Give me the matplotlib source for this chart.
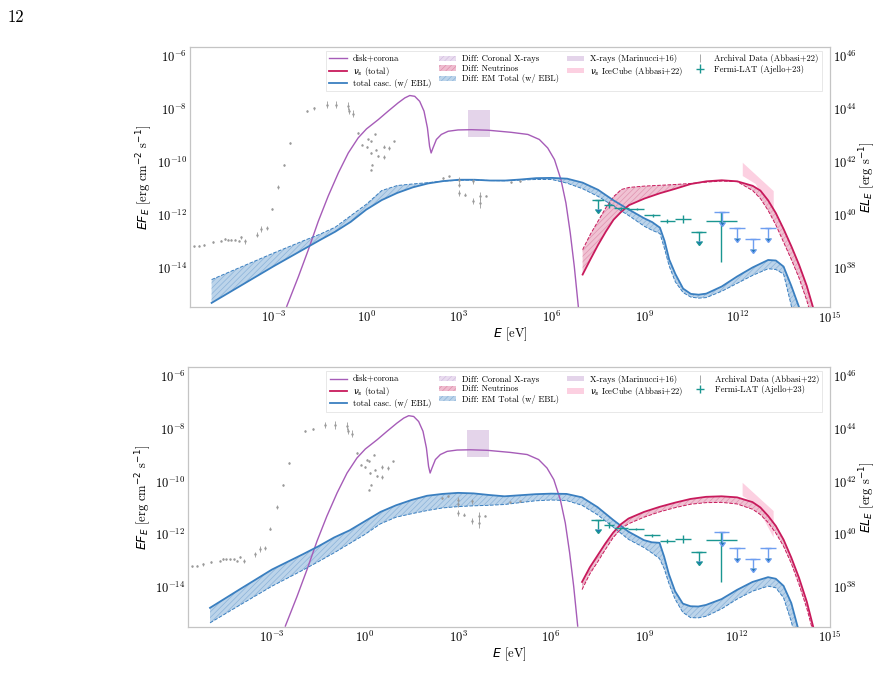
import numpy as np
import matplotlib.pyplot as plt
from matplotlib.patches import Patch
from matplotlib.lines import Line2D
from matplotlib.ticker import NullLocator

plt.rcParams['font.family'] = 'serif'
plt.rcParams['font.serif'] = ['cmr10', 'DejaVu Serif']
plt.rcParams['mathtext.fontset'] = 'dejavusans'
plt.rcParams['axes.formatter.use_mathtext'] = True
plt.rcParams['axes.unicode_minus'] = False
plt.rcParams['hatch.linewidth'] = 0.5

# ---- data (log10 E [eV], log10 E F_E [erg cm^-2 s^-1]) ----
disk_logE = [-2.57, -2.19, -1.87, -1.55, -1.23, -0.90, -0.58, -0.26, 0.01, 0.39, 0.71, 1.03,
             1.25, 1.41, 1.57, 1.73, 1.87, 1.98, 2.05, 2.10, 2.16, 2.27, 2.43, 2.65, 2.97,
             3.40, 3.94, 4.69, 5.23, 5.60, 5.87, 6.09, 6.30, 6.46, 6.60, 6.73, 6.86]
disk_logF = [-15.47, -14.34, -13.33, -12.26, -11.31, -10.43, -9.68, -9.11, -8.77, -8.42, -8.10, -7.79,
             -7.60, -7.51, -7.54, -7.73, -8.10, -8.73, -9.43, -9.68, -9.49, -9.17, -8.98, -8.86, -8.81,
             -8.80, -8.82, -8.90, -8.98, -9.17, -9.49, -9.93, -10.69, -11.57, -12.70, -13.96, -15.47]

casc_logE = [-5.0, -4.0, -3.0, -2.0, -1.5, -1.0, -0.5, 0.0, 0.5, 1.0, 1.5, 2.0, 2.5, 3.0, 3.5,
             4.0, 4.5, 5.0, 5.5, 6.0, 6.5, 7.0, 7.5, 8.0, 8.5, 9.0, 9.25, 9.5, 9.65, 9.8, 10.0,
             10.25, 10.5, 10.75, 11.0, 11.5, 12.0, 12.5, 13.0, 13.25, 13.5, 13.75, 14.0]
# top panel: solid model and dashed model
casc_top_a = [-15.34, -14.65, -13.96, -13.30, -12.97, -12.65, -12.28, -11.82, -11.46, -11.19, -10.98,
              -10.83, -10.74, -10.69, -10.69, -10.72, -10.72, -10.68, -10.63, -10.62, -10.65, -10.80,
              -11.07, -11.47, -11.82, -12.15, -12.29, -12.50, -13.00, -13.70, -14.25, -14.80, -15.00,
              -15.03, -14.99, -14.72, -14.34, -14.00, -13.72, -13.74, -13.97, -14.70, -15.50]
casc_top_b = [-14.46, -13.96, -13.46, -12.98, -12.75, -12.48, -12.05, -11.62, -11.10, -10.91, -10.85,
              -10.80, -10.74, -10.71, -10.70, -10.72, -10.73, -10.70, -10.68, -10.68, -10.82, -11.03,
              -11.32, -11.68, -12.05, -12.45, -12.60, -12.72, -13.30, -13.95, -14.55, -14.95, -15.12,
              -15.16, -15.14, -14.90, -14.60, -14.30, -14.05, -14.08, -14.25, -15.45, -16.50]
# bottom panel
casc_bot_a = [-14.78, -14.05, -13.33, -12.75, -12.45, -12.12, -11.85, -11.50, -11.15, -10.90, -10.70,
              -10.54, -10.47, -10.43, -10.45, -10.51, -10.56, -10.52, -10.48, -10.46, -10.47, -10.60,
              -10.97, -11.45, -11.90, -12.22, -12.30, -12.32, -12.85, -13.50, -14.15, -14.62, -14.72,
              -14.73, -14.67, -14.45, -14.10, -13.80, -13.62, -13.68, -13.95, -14.60, -15.70]
casc_bot_b = [-15.35, -14.65, -13.96, -13.35, -13.03, -12.70, -12.35, -12.00, -11.60, -11.35, -11.22,
              -11.10, -11.00, -10.95, -10.92, -10.90, -10.87, -10.80, -10.73, -10.70, -10.72, -10.90,
              -11.26, -11.72, -12.19, -12.50, -12.70, -12.92, -13.30, -13.85, -14.45, -14.95, -15.15,
              -15.16, -15.10, -14.82, -14.45, -14.15, -13.96, -14.02, -14.40, -15.30, -16.50]

nu_logE = [7.0, 7.25, 7.5, 7.75, 8.0, 8.25, 8.5, 9.0, 9.5, 10.0, 10.5, 11.0, 11.5, 12.0, 12.5,
           12.75, 13.0, 13.25, 13.5, 13.75, 14.0, 14.25, 14.5]
nu_top_a = [-14.27, -13.70, -13.15, -12.65, -12.20, -11.90, -11.65, -11.40, -11.20, -11.03, -10.85,
            -10.75, -10.71, -10.75, -10.92, -11.10, -11.47, -11.95, -12.55, -13.20, -13.90, -14.70, -15.70]
nu_top_b = [-13.33, -12.75, -12.25, -11.75, -11.33, -11.06, -10.98, -10.93, -10.90, -10.87, -10.83,
            -10.78, -10.74, -10.76, -11.10, -11.40, -11.85, -12.40, -13.05, -13.70, -14.40, -15.25, -16.30]
nu_bot_a = [-13.80, -13.25, -12.80, -12.35, -11.94, -11.62, -11.40, -11.15, -10.96, -10.80, -10.66,
            -10.58, -10.56, -10.60, -10.78, -10.98, -11.30, -11.68, -12.20, -12.88, -13.65, -14.55, -15.70]
nu_bot_b = [-14.09, -13.50, -13.05, -12.58, -12.13, -11.80, -11.60, -11.35, -11.15, -10.99, -10.86,
            -10.80, -10.79, -10.85, -11.05, -11.25, -11.55, -11.95, -12.45, -13.10, -13.90, -14.80, -15.90]

# X-ray box (Marinucci+16), 2-10 keV
xray_logE = [3.30, 4.01]
xray_logF = [-9.07, -8.07]

# IceCube bowtie
ice_logE_up = [12.18, 13.18]
ice_logF_up = [-10.05, -11.12]
ice_logE_lo = [13.18, 12.60, 12.18]
ice_logF_lo = [-12.12, -10.85, -10.55]

# archival data
arch_logE = [-5.58, -5.42, -5.24, -4.97, -4.69, -4.58, -4.47, -4.37, -4.24, -4.13, -4.04, -3.91,
             -3.54, -3.40, -3.22, -3.05, -2.84, -2.66, -2.45, -1.92, -1.69, -1.28, -0.98, -0.58,
             -0.56, -0.43, -0.26, -0.13, 0.01, 0.06, 0.14, 0.17, 0.20, 0.14, 0.28, 0.33, 0.39,
             0.56, 0.56, 0.73, 0.89, 2.47, 2.68, 2.99, 2.99, 2.99, 3.18, 3.46, 3.46, 3.67, 3.67,
             3.86, 4.69, 4.99]
arch_logF = [-13.20, -13.18, -13.14, -13.05, -12.99, -12.93, -12.95, -12.95, -12.95, -12.99, -12.86, -13.02,
             -12.76, -12.55, -12.51, -11.78, -10.96, -10.14, -9.30, -8.10, -8.00, -7.85, -7.85, -7.91,
             -8.10, -8.19, -8.92, -9.36, -9.45, -9.17, -9.24, -9.68, -10.12, -10.31, -8.98, -9.55, -9.80,
             -9.83, -9.45, -9.49, -9.24, -10.62, -10.56, -10.69, -10.87, -11.19, -11.25, -10.75, -11.50,
             -11.31, -11.57, -11.29, -10.79, -10.75]
arch_err = [0.02, 0.03, 0.04, 0.03, 0.03, 0.04, 0.03, 0.03, 0.03, 0.03, 0.05, 0.08,
            0.10, 0.10, 0.08, 0.04, 0.08, 0.03, 0.03, 0.03, 0.04, 0.12, 0.15, 0.15,
            0.12, 0.12, 0.03, 0.03, 0.03, 0.03, 0.03, 0.03, 0.03, 0.03, 0.03, 0.03, 0.03,
            0.06, 0.06, 0.06, 0.03, 0.03, 0.03, 0.10, 0.10, 0.12, 0.06, 0.10, 0.12, 0.15, 0.18,
            0.03, 0.03, 0.03]

# Fermi-LAT (Ajello+23)
fermi_logE = [7.50, 7.86, 8.24, 8.75, 9.26, 9.74, 10.26, 10.76, 11.49]
fermi_lo = [7.30, 7.70, 8.02, 8.49, 9.00, 9.50, 10.00, 10.51, 11.00]
fermi_hi = [7.70, 8.02, 8.49, 9.00, 9.50, 10.00, 10.51, 11.00, 12.00]
fermi_logF = [-11.46, -11.65, -11.77, -11.79, -12.04, -12.25, -12.18, -12.67, -12.23]
fermi_dlo = [0.35, 0.12, 0.05, 0.03, 0.05, 0.08, 0.15, 0.35, 1.58]
fermi_dhi = [0.0, 0.12, 0.05, 0.03, 0.05, 0.08, 0.15, 0.0, 0.31]
fermi_ul = [True, False, False, False, False, False, False, True, False]
# high-energy upper limits
ful_logE = [11.50, 12.00, 12.51, 13.00]
ful_lo = [11.25, 11.75, 12.25, 12.75]
ful_hi = [11.75, 12.25, 12.75, 13.25]
ful_logF = [-11.92, -12.53, -12.92, -12.53]

x_ticks = [1e-3, 1e0, 1e3, 1e6, 1e9, 1e12, 1e15]
y_ticks = [1e-14, 1e-12, 1e-10, 1e-8, 1e-6]
lum_factor = 1e52

c_disk = '#a65cb8'
c_nu = '#c81a5c'
c_casc = '#3a7fc0'
c_fermi = '#1a9691'
c_ul = '#6e9ef0'
c_grey = '#9a9a9a'


def p(v):
    return 10.0 ** np.asarray(v)


def style_spines(a):
    for s in a.spines.values():
        s.set_color('#c4c4c4')
        s.set_linewidth(0.8)


def draw_panel(ax, ca, cb, na, nb):
    E = p(casc_logE)
    En = p(nu_logE)
    # X-ray box
    ax.fill_between(p(xray_logE), p(xray_logF[0]), p(xray_logF[1]), color='#e4d4ea', lw=0, zorder=1)
    # IceCube bowtie
    ax.fill(p(ice_logE_up + ice_logE_lo), p(ice_logF_up + ice_logF_lo), color='#fcd0e1', lw=0, zorder=1)
    # disk + corona
    ax.plot(p(disk_logE), p(disk_logF), color=c_disk, lw=1.0, zorder=3)
    # cascade band
    ax.fill_between(E, p(ca), p(cb), facecolor='#bcd4ea', edgecolor='#8cb3d9', hatch='//////',
                    lw=0, zorder=2)
    ax.plot(E, p(cb), color=c_casc, lw=0.7, ls='--', zorder=3)
    ax.plot(E, p(ca), color=c_casc, lw=1.3, zorder=4)
    # neutrino band
    ax.fill_between(En, p(na), p(nb), facecolor='#efbccf', edgecolor='#de8fac', hatch='//////',
                    lw=0, zorder=2, alpha=0.9)
    ax.plot(En, p(nb), color=c_nu, lw=0.7, ls='--', zorder=3)
    ax.plot(En, p(na), color=c_nu, lw=1.3, zorder=4)
    # archival data
    F = p(arch_logF)
    ae = np.array(arch_err)
    ax.errorbar(p(arch_logE), F, yerr=[F - F * 10 ** -ae, F * 10 ** ae - F],
                fmt='.', ms=1.5, color=c_grey, elinewidth=0.6, zorder=5)
    # Fermi
    Ff = p(fermi_logF)
    Ef = p(fermi_logE)
    xlo = Ef - p(fermi_lo)
    xhi = p(fermi_hi) - Ef
    ylo = Ff - Ff * 10 ** (-np.array(fermi_dlo))
    yhi = Ff * 10 ** np.array(fermi_dhi) - Ff
    ul = np.array(fermi_ul)
    ef = ax.errorbar(Ef[~ul], Ff[~ul], xerr=[xlo[~ul], xhi[~ul]], yerr=[ylo[~ul], yhi[~ul]],
                     fmt='none', ecolor=c_fermi, elinewidth=1.0, zorder=6)
    ax.errorbar(Ef[ul], Ff[ul], xerr=[xlo[ul], xhi[ul]], fmt='none', ecolor=c_fermi,
                elinewidth=1.0, zorder=6)
    ax.errorbar(Ef[ul], Ff[ul], yerr=ylo[ul], uplims=True, fmt='none', ecolor=c_fermi,
                elinewidth=1.0, capsize=2, zorder=6)
    Eu = p(ful_logE)
    Fu = p(ful_logF)
    ax.errorbar(Eu, Fu, xerr=[Eu - p(ful_lo), p(ful_hi) - Eu], fmt='none', ecolor=c_ul,
                elinewidth=1.0, zorder=6)
    ax.errorbar(Eu, Fu, yerr=Fu - Fu * 10 ** -0.37, uplims=True, fmt='none', ecolor=c_ul,
                elinewidth=1.0, capsize=2, zorder=6)

    ax.set_xscale('log')
    ax.set_yscale('log')
    ax.set_xlim(2e-6, 1e15)
    ax.set_ylim(3.2e-16, 2.1e-6)
    ax.set_xticks(x_ticks)
    ax.set_yticks(y_ticks)
    ax.xaxis.set_minor_locator(NullLocator())
    ax.yaxis.set_minor_locator(NullLocator())
    ax.set_xlabel(r'$E$ [eV]', fontsize=9, labelpad=0)
    ax.set_ylabel(r'$EF_E$ [erg cm$^{-2}$ s$^{-1}$]', fontsize=9, labelpad=1)
    ax.tick_params(labelsize=9, length=0, pad=2)
    style_spines(ax)

    ax2 = ax.twinx()
    ax2.set_yscale('log')
    ax2.set_ylim(3.2e-16 * lum_factor, 2.1e-6 * lum_factor)
    ax2.set_yticks([t * lum_factor for t in y_ticks])
    ax2.yaxis.set_minor_locator(NullLocator())
    ax2.set_ylabel(r'$EL_E$ [erg s$^{-1}$]', fontsize=9, labelpad=1)
    ax2.tick_params(labelsize=9, length=0, pad=2)
    style_spines(ax2)

    handles = [
        Line2D([], [], color=c_disk, lw=1.0),
        Line2D([], [], color=c_nu, lw=1.3),
        Line2D([], [], color=c_casc, lw=1.3),
        Patch(facecolor='#e9dcef', edgecolor='#d2bde0', hatch='//////', lw=0),
        Patch(facecolor='#efbccf', edgecolor='#de8fac', hatch='//////', lw=0),
        Patch(facecolor='#bcd4ea', edgecolor='#8cb3d9', hatch='//////', lw=0),
        Patch(facecolor='#e4d4ea', lw=0),
        Patch(facecolor='#fcd0e1', lw=0),
        Line2D([], [], color=c_grey, lw=0, marker='|', ms=6, mew=0.6),
        ef,
    ]
    labels = ['disk+corona', r'$\nu_s$ (total)', 'total casc. (w/ EBL)',
              'Diff: Coronal X-rays', 'Diff: Neutrinos', 'Diff: EM Total (w/ EBL)',
              'X-rays (Marinucci+16)', r'$\nu_s$ IceCube (Abbasi+22)',
              'Archival Data (Abbasi+22)', 'Fermi-LAT (Ajello+23)']
    leg = ax.legend(handles, labels, ncol=4, loc='upper right', bbox_to_anchor=(0.988, 0.985),
                    fontsize=6.2, frameon=True, edgecolor='#dddddd', fancybox=False,
                    borderaxespad=0.0, columnspacing=0.9, handlelength=2.0, handleheight=0.6,
                    handletextpad=0.7, labelspacing=0.15, borderpad=0.4)
    leg.get_frame().set_linewidth(0.6)
    leg.set_zorder(10)


fig = plt.figure(figsize=(8.78, 6.81), dpi=100)
ax_top = fig.add_axes([0.2164, 0.5492, 0.7289, 0.3818])
ax_bot = fig.add_axes([0.2145, 0.0797, 0.7309, 0.3810])
draw_panel(ax_top, casc_top_a, casc_top_b, nu_top_a, nu_top_b)
draw_panel(ax_bot, casc_bot_a, casc_bot_b, nu_bot_a, nu_bot_b)
fig.text(0.009, 0.967, '12', fontsize=12, family='serif')

fig.savefig('out.png', dpi=100)
